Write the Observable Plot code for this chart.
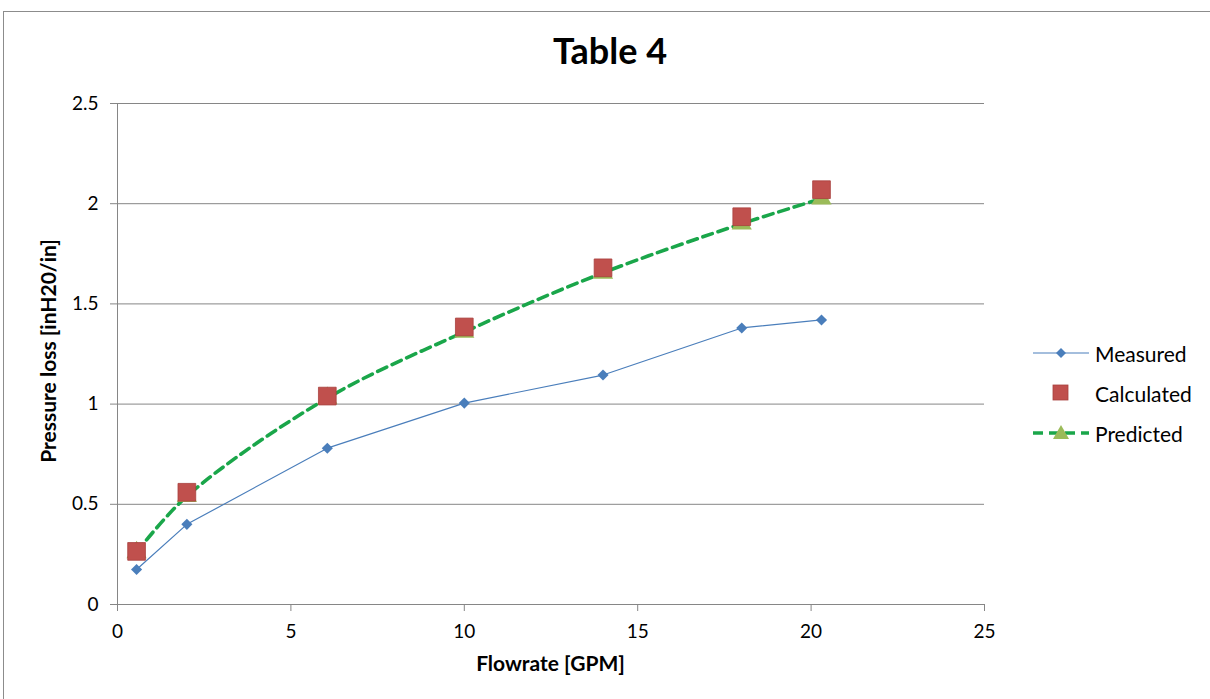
<!DOCTYPE html>
<html>
<head>
<meta charset="utf-8">
<script src="https://cdn.jsdelivr.net/npm/d3@7"></script>
<script src="https://cdn.jsdelivr.net/npm/@observablehq/plot@0.6"></script>
<style>
  html, body { margin: 0; padding: 0; background: #fff; }
  #wrap { position: relative; width: 1210px; height: 699px; overflow: hidden; font-family: Lato, "Open Sans", sans-serif; }
  #frame { position: absolute; left: 3px; top: 11px; width: 1220px; height: 700px; border: 1px solid #8c8c8c; box-sizing: border-box; }
  #chart { position: absolute; left: 0; top: 0; }
  .ttl { position: absolute; font-weight: bold; color: #000; white-space: nowrap; }
  #title { left: 0; width: 1220px; top: 28px; text-align: center; font-size: 36px; }
  #xlabel { left: 0; width: 1101px; top: 650px; text-align: center; font-size: 21px; }
  #ylabel { left: 47px; top: 351px; font-size: 21px; transform: translate(-50%, -50%) rotate(-90deg); }
  #legend { position: absolute; left: 1033px; top: 333px; font-size: 21px; color: #000; }
  .li { display: flex; align-items: center; height: 40px; }
  .li svg { margin-right: 6px; }
</style>
</head>
<body>
<div id="wrap">
  <div id="frame"></div>
  <div id="chart"></div>
  <div class="ttl" id="title">Table 4</div>
  <div class="ttl" id="xlabel">Flowrate [GPM]</div>
  <div class="ttl" id="ylabel">Pressure loss [inH20/in]</div>
  <div id="legend"></div>
</div>
<script>
const flow       = [0.55, 2.0, 6.05, 10.0, 14.0, 18.0, 20.3];
const measured   = [0.175, 0.40, 0.78, 1.005, 1.145, 1.38, 1.42];
const calculated = [0.265, 0.56, 1.04, 1.385, 1.68, 1.935, 2.07];
const predicted  = [0.26, 0.54, 1.03, 1.36, 1.655, 1.90, 2.025];
const xTicks = [0, 5, 10, 15, 20, 25];
const yTicks = [0, 0.5, 1, 1.5, 2, 2.5];
const seriesNames = ["Measured", "Calculated", "Predicted"];

const colors = { Measured: "#4a7ebb", Calculated: "#c0504d", Predicted: "#9bbb59", PredLine: "#1aa64a" };

const rows = flow.map((f, i) => ({ f, m: measured[i], c: calculated[i], p: predicted[i] }));

const plot = Plot.plot({
  width: 1210,
  height: 699,
  marginLeft: 117,
  marginRight: 226,
  marginTop: 103,
  marginBottom: 95,
  style: { fontFamily: "Lato, 'Open Sans', sans-serif", fontSize: "19px", color: "#000", background: "transparent" },
  x: { domain: [0, 25] },
  y: { domain: [0, 2.5] },
  marks: [
    Plot.gridY(yTicks, { stroke: "#868686", strokeOpacity: 1, strokeWidth: 1 }),
    Plot.ruleX([0], { stroke: "#868686", strokeWidth: 1 }),
    Plot.axisY(yTicks, { tickSize: 7, tickPadding: 12, tickFormat: d => String(d), stroke: "#868686", label: null, fontSize: 19 }),
    Plot.axisX(xTicks, { tickSize: 7, tickPadding: 13, tickFormat: d => String(d), stroke: "#868686", label: null, fontSize: 19 }),
    Plot.line(rows, { x: "f", y: "m", stroke: colors.Measured, strokeWidth: 1.2 }),
    Plot.line(rows, { x: "f", y: "p", stroke: colors.PredLine, strokeWidth: 3.6, strokeDasharray: "10,6", curve: "catmull-rom" }),
    Plot.dot(rows, { x: "f", y: "p", symbol: "triangle", r: 7.5, fill: colors.Predicted, stroke: "none" }),
    Plot.dot(rows, { x: "f", y: "c", symbol: "square", r: 10, fill: colors.Calculated, stroke: "#a8403d", strokeWidth: 0.8 }),
    Plot.dot(rows, { x: "f", y: "m", symbol: "diamond2", r: 5, fill: colors.Measured, stroke: "none" })
  ]
});
document.getElementById("chart").appendChild(plot);

// legend
const leg = document.getElementById("legend");
const sw = {
  Measured: `<svg width="56" height="16"><line x1="0" y1="8" x2="56" y2="8" stroke="${colors.Measured}" stroke-width="1.2"/><path d="M28,3 L33,8 L28,13 L23,8Z" fill="${colors.Measured}"/></svg>`,
  Calculated: `<svg width="56" height="18"><rect x="20" y="1" width="15" height="15" fill="${colors.Calculated}" stroke="#a8403d" stroke-width="0.8"/></svg>`,
  Predicted: `<svg width="56" height="18"><line x1="0" y1="9" x2="56" y2="9" stroke="${colors.PredLine}" stroke-width="3.6" stroke-dasharray="10,6"/><path d="M28,1 L36,15 L20,15Z" fill="${colors.Predicted}"/></svg>`
};
seriesNames.forEach(n => {
  const d = document.createElement("div");
  d.className = "li";
  d.innerHTML = sw[n] + `<span>${n}</span>`;
  leg.appendChild(d);
});
</script>
</body>
</html>
